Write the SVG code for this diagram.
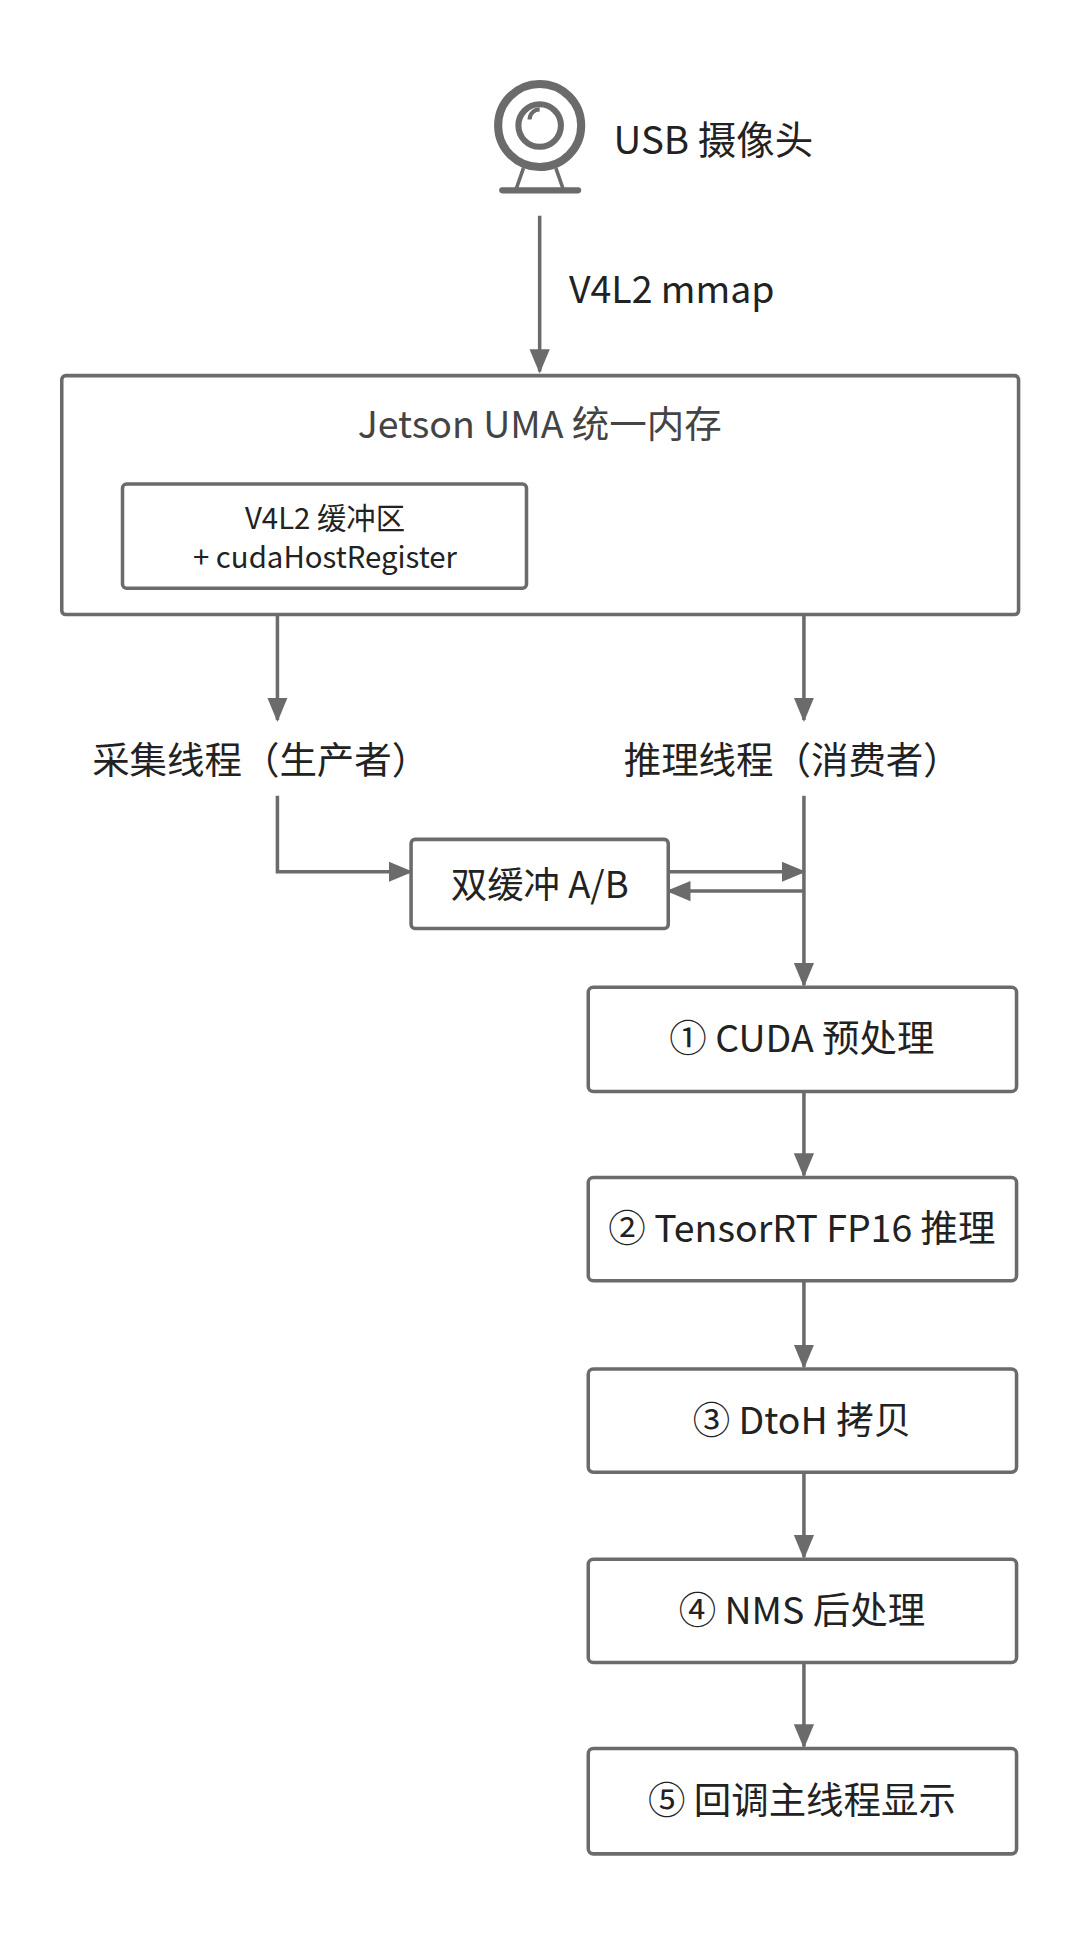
<svg xmlns="http://www.w3.org/2000/svg" width="1080" height="1935" viewBox="0 0 1080 1935">
<style>
.b{fill:#fff;stroke:#6b6b6b;stroke-width:3.5}
.l{fill:none;stroke:#6b6b6b;stroke-width:3.5}
text{font-family:"Noto Sans CJK SC","Noto Sans",sans-serif;fill:#222}
.c{text-anchor:middle}
</style>
<defs>
<marker id="m" markerWidth="24" markerHeight="24" refX="22" refY="12" orient="auto" markerUnits="userSpaceOnUse"><path d="M0,2L24,12L0,22z" fill="#6b6b6b"/></marker></defs>
<rect width="1080" height="1935" fill="#fff"/>
<g transform="scale(1.0125)">
<g id="camera">
<circle cx="533" cy="124" r="41" fill="none" stroke="#6b6b6b" stroke-width="8"/>
<circle cx="533" cy="124" r="21" fill="none" stroke="#6b6b6b" stroke-width="6"/>
<path d="M523,118a10,10 0 0 1 10,-10" fill="none" stroke="#6b6b6b" stroke-width="4"/>
<path d="M517,166L510,186M549,166L556,186" class="l" stroke-width="5"/>
<line x1="496" y1="188" x2="571" y2="188" stroke="#6b6b6b" stroke-width="6" stroke-linecap="round"/>
<text x="606" y="152" font-size="38">USB 摄像头</text>
</g>
<g id="connectors" class="l">
<path d="M533,213V367" marker-end="url(#m)"/>
<path d="M520,528H794V711" marker-end="url(#m)"/>
<path d="M274,607V711" marker-end="url(#m)"/>
<path d="M274,786V861H406" marker-end="url(#m)"/>
<path d="M660,861H794" marker-end="url(#m)"/>
<path d="M794,880H660" marker-end="url(#m)"/>
<path d="M794,786V973" marker-end="url(#m)"/>
<path d="M794,1078V1161" marker-end="url(#m)"/>
<path d="M794,1265V1350" marker-end="url(#m)"/>
<path d="M794,1454V1538" marker-end="url(#m)"/>
<path d="M794,1642V1725" marker-end="url(#m)"/>
</g>
<text x="562" y="299" font-size="37">V4L2 mmap</text>
<g id="uma">
<rect class="b" x="61" y="371" width="945" height="236" rx="4"/>
<text class="c" x="533" y="433" font-size="37" style="fill:#444">Jetson UMA 统一内存</text>
</g>
<g id="v4l2buf">
<rect class="b" x="121" y="478" width="399" height="103" rx="4"/>
<text class="c" x="321" y="522" font-size="29">V4L2 缓冲区</text>
<text class="c" x="321" y="561" font-size="29">+ cudaHostRegister</text>
</g>
<text x="91" y="764" font-size="37">采集线程（生产者）</text>
<text x="616" y="764" font-size="37">推理线程（消费者）</text>
<g id="dbuf"><rect class="b" x="406" y="829" width="254" height="88" rx="4"/><text class="c" x="533" y="887" font-size="36">双缓冲 A/B</text></g>
<g id="s1"><rect class="b" x="581" y="975" width="423" height="103" rx="5"/><text class="c" x="792" y="1039" font-size="37">① CUDA 预处理</text></g>
<g id="s2"><rect class="b" x="581" y="1163" width="423" height="102" rx="5"/><text class="c" x="792" y="1227" font-size="37">② TensorRT FP16 推理</text></g>
<g id="s3"><rect class="b" x="581" y="1352" width="423" height="102" rx="5"/><text class="c" x="792" y="1416" font-size="37">③ DtoH 拷贝</text></g>
<g id="s4"><rect class="b" x="581" y="1540" width="423" height="102" rx="5"/><text class="c" x="792" y="1604" font-size="37">④ NMS 后处理</text></g>
<g id="s5"><rect class="b" x="581" y="1727" width="423" height="104" rx="5"/><text class="c" x="792" y="1792" font-size="37">⑤ 回调主线程显示</text></g>
</g>
</svg>
